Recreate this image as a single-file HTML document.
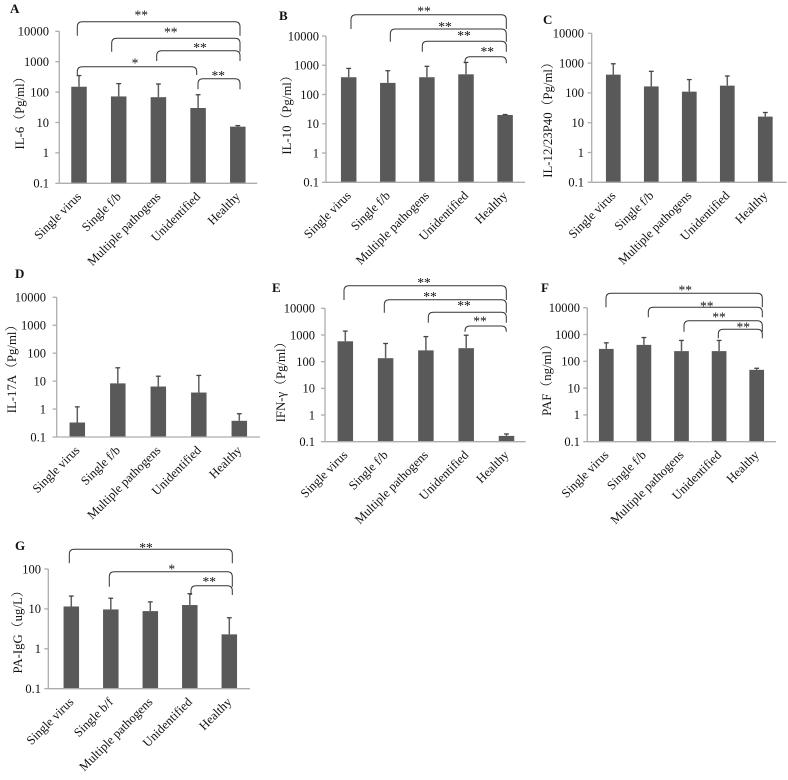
<!DOCTYPE html>
<html lang="en">
<head>
<meta charset="utf-8">
<title>Cytokine levels by pathogen group</title>
<style>
html,body{margin:0;padding:0;background:#fff;width:788px;height:780px;overflow:hidden}
svg{display:block;font-family:"Liberation Serif","Noto Serif CJK SC",serif;filter:blur(0.3px)}
</style>
</head>
<body>
<svg id="figure" xmlns="http://www.w3.org/2000/svg" width="788" height="780" viewBox="0 0 788 780"></svg>
<script>
const categoriesFB = ["Single virus", "Single f/b", "Multiple pathogens", "Unidentified", "Healthy"];
const categoriesBF = ["Single virus", "Single b/f", "Multiple pathogens", "Unidentified", "Healthy"];
const ticksWide = [0.1, 1, 10, 100, 1000, 10000];
const ticksNarrow = [0.1, 1, 10, 100];

const valuesA = [150, 72, 68, 30, 7.3];
const errorsA = [350, 190, 185, 82, 7.9];
const valuesB = [390, 250, 390, 490, 20];
const errorsB = [780, 650, 920, 1250, 20.7];
const valuesC = [410, 165, 110, 175, 16];
const errorsC = [950, 530, 280, 370, 22];
const valuesD = [0.33, 8.3, 6.4, 3.9, 0.38];
const errorsD = [1.2, 30, 15, 16, 0.68];
const valuesE = [580, 135, 265, 320, 0.165];
const errorsE = [1400, 480, 870, 980, 0.195];
const valuesF = [290, 410, 240, 240, 48];
const errorsF = [490, 770, 600, 600, 55];
const valuesG = [11.5, 9.7, 8.8, 12.5, 2.3];
const errorsG = [21, 18.5, 15, 24, 6];

const panels = [
  {id:"a", letter:"A", lx:10, ly:13, title:"IL-6（Pg/ml）", tx:24, ty:110, categories:categoriesFB, ticks:ticksWide, values:valuesA, errors:errorsA,
   left:59.3, right:257.3, top:31.3, bottom:183.3, first:79, step:39.7, barW:15.5, tickRight:49, ldx:3, ldy:14,
   brackets:[[77.3,240,21.7,35.7,141.3,13.3,"**"],[111.7,240,38.3,51.7,170.7,30.7,"**"],[156.7,240,50.7,61,200,46,"**"],[77.3,196.7,66.7,75,135,61.7,"*"],[198,240,78.7,89.3,218.3,74,"**"]]},
  {id:"b", letter:"B", lx:279, ly:20, title:"IL-10（Pg/ml）", tx:291, ty:112, categories:categoriesFB, ticks:ticksWide, values:valuesB, errors:errorsB,
   left:326, right:525, top:36, bottom:182.3, first:348.7, step:39.1, barW:15.5, tickRight:319, ldx:3, ldy:14,
   brackets:[[351,506.3,14.7,29,424,9.3,"**"],[390.3,506.3,29,41.7,445,25,"**"],[422.3,506.3,41.3,51.7,464,34,"**"],[465,506.3,56.7,63.3,487.3,50,"**"]]},
  {id:"c", letter:"C", lx:543, ly:24, title:"IL-12/23P40（Pg/ml）", tx:552, ty:117, categories:categoriesFB, ticks:ticksWide, values:valuesC, errors:errorsC,
   left:591.7, right:786.7, top:33.3, bottom:182.3, first:613.3, step:38, barW:14.7, tickRight:584, ldx:3, ldy:14,
   brackets:[]},
  {id:"d", letter:"D", lx:15, ly:278, title:"IL-17A（Pg/ml）", tx:16, ty:366, categories:categoriesFB, ticks:ticksWide, values:valuesD, errors:errorsD,
   left:56.7, right:260, top:297.3, bottom:437, first:77.3, step:40.5, barW:15.5, tickRight:46, ldx:3, ldy:14,
   brackets:[]},
  {id:"e", letter:"E", lx:272, ly:292, title:"IFN-γ（Pg/ml）", tx:285, ty:379, categories:categoriesFB, ticks:ticksWide, values:valuesE, errors:errorsE,
   left:325, right:525.7, top:308.3, bottom:441.7, first:345.3, step:40.3, barW:15.5, tickRight:315, ldx:3, ldy:14,
   brackets:[[344,506.3,285.7,300,424,281,"**"],[384.3,506.3,299.7,312.7,430,295,"**"],[428.3,506.3,312.3,322.7,464,304,"**"],[465,506.3,326,331.7,480,319.3,"**"]]},
  {id:"f", letter:"F", lx:541, ly:292, title:"PAF（ng/ml）", tx:551, ty:377, categories:categoriesFB, ticks:ticksWide, values:valuesF, errors:errorsF,
   left:587.3, right:776, top:307.7, bottom:441.7, first:606.3, step:37.6, barW:14.7, tickRight:580, ldx:3, ldy:14,
   brackets:[[606,762.3,293.3,307.3,685.3,288.3,"**"],[648.3,762.3,307.3,317.3,706.7,304.3,"**"],[684,762.3,320.7,331.7,719,315.7,"**"],[718.3,762.3,329.3,338.3,743.3,325.7,"**"]]},
  {id:"g", letter:"G", lx:15, ly:550, title:"PA-IgG（ug/L）", tx:22, ty:629, categories:categoriesBF, ticks:ticksNarrow, values:valuesG, errors:errorsG,
   left:48.3, right:250, top:569, bottom:688.7, first:71.3, step:39.5, barW:15.5, tickRight:41, ldx:3, ldy:14,
   brackets:[[69.3,232.3,549.3,563.3,146,546,"**"],[109.3,232.3,571.7,586.7,171.7,567.3,"*"],[191,232.3,585.7,595,209.3,580,"**"]]}
];

const SVG_NS = "http://www.w3.org/2000/svg";
const figure = document.getElementById("figure");
const BAR_COLOR = "#595959";
const AXIS_COLOR = "#adadad";
const TEXT_COLOR = "#111111";
const BRACKET_COLOR = "#333333";

function make(tag, parent, attrs, text) {
  const node = document.createElementNS(SVG_NS, tag);
  for (const key in attrs) node.setAttribute(key, attrs[key]);
  if (text !== undefined) node.textContent = text;
  parent.appendChild(node);
  return node;
}

function yScale(panel) {
  const lo = Math.log10(panel.ticks[0]);
  const hi = Math.log10(panel.ticks[panel.ticks.length - 1]);
  return function (v) {
    return panel.bottom - (Math.log10(v) - lo) / (hi - lo) * (panel.bottom - panel.top);
  };
}

function xScale(panel) {
  return function (i) {
    return panel.first + i * panel.step;
  };
}

function bracketPath(b) {
  const r = Math.min(5, b[3] - b[2]);
  return "M" + b[0] + " " + b[3] + "V" + (b[2] + r) + "Q" + b[0] + " " + b[2] + " " + (b[0] + r) + " " + b[2] +
    "H" + (b[1] - r) + "Q" + b[1] + " " + b[2] + " " + b[1] + " " + (b[2] + r) + "V" + b[3];
}

function drawPanel(panel) {
  const y = yScale(panel);
  const x = xScale(panel);
  const group = make("g", figure, {});
  
  

  const letter = make("text", group, {x: panel.lx, y: panel.ly, "font-size": 13, "font-weight": "bold", fill: "#111"}, panel.letter);
  
  

  const title = make("text", group, {x: panel.tx, y: panel.ty, "font-size": 12.8, fill: TEXT_COLOR, "text-anchor": "middle", transform: "rotate(-90 " + panel.tx + " " + panel.ty + ")"}, panel.title);
  
  

  const yAxis = make("line", group, {x1: panel.left, x2: panel.left, y1: panel.top, y2: panel.bottom, stroke: AXIS_COLOR, "stroke-width": 1.3});
  
  

  panel.ticks.forEach(function (t) {
    const mark = make("line", group, {x1: panel.left - 4, x2: panel.left, y1: y(t), y2: y(t), stroke: AXIS_COLOR, "stroke-width": 1.3});
    
    
    const label = make("text", group, {x: panel.tickRight, y: y(t) + 4.3, "font-size": 12.5, fill: TEXT_COLOR, "text-anchor": "end"}, String(t));
    
    
  });

  panel.values.forEach(function (v, i) {
    const cx = x(i);
    const top = y(v);
    const bar = make("rect", group, {x: cx - panel.barW / 2, y: top, width: panel.barW, height: panel.bottom - top, fill: BAR_COLOR});
    
    
    const errTop = y(panel.errors[i]);
    const stem = make("line", group, {x1: cx, x2: cx, y1: top, y2: errTop, stroke: "#5f5f5f", "stroke-width": 1.5});
    
    
    const cap = make("line", group, {x1: cx - 2.4, x2: cx + 2.4, y1: errTop, y2: errTop, stroke: "#444", "stroke-width": 1.3});
    
    
    const ax = cx + panel.ldx;
    const ay = panel.bottom + panel.ldy;
    const cat = make("text", group, {x: ax, y: ay, "font-size": 12.6, fill: TEXT_COLOR, "text-anchor": "end", transform: "rotate(-45 " + ax + " " + ay + ")"}, panel.categories[i]);
    
    
  });

  const xAxis = make("line", group, {x1: panel.left, x2: panel.right, y1: panel.bottom, y2: panel.bottom, stroke: AXIS_COLOR, "stroke-width": 1.3});
  
  

  panel.brackets.forEach(function (b) {
    const path = make("path", group, {d: bracketPath(b), fill: "none", stroke: BRACKET_COLOR, "stroke-width": 1});
    
    
    const star = make("text", group, {x: b[4], y: b[5] + 6, "font-size": 13.5, fill: TEXT_COLOR, "text-anchor": "middle"}, b[6]);
    
    
  });
}

panels.forEach(drawPanel);
</script>
</body>
</html>
